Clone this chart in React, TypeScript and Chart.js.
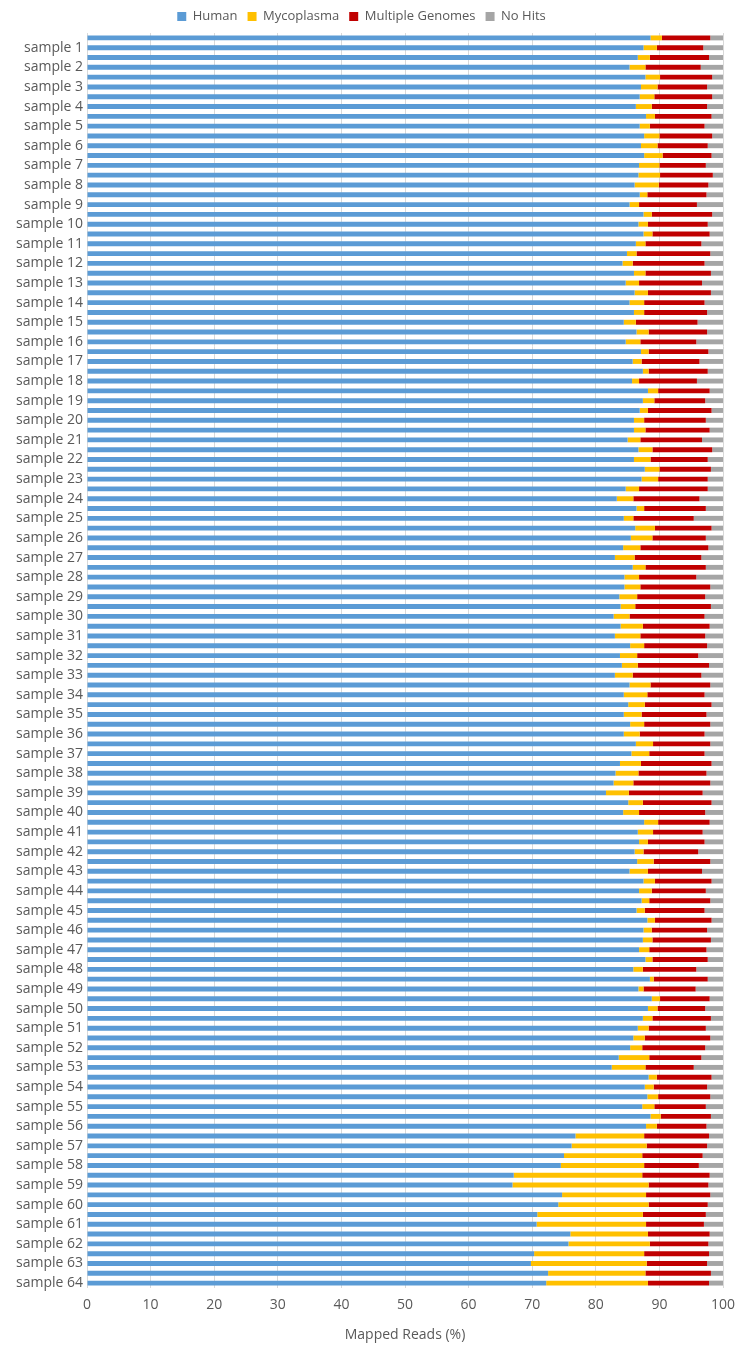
import React, { useEffect, useRef } from "react";
import { Chart, registerables } from "chart.js";

Chart.register(...registerables);

// Two bars per sample; the label sits on the second bar of each pair
const sampleCount = 64;
const categories: string[] = [];
for (let s = 1; s <= sampleCount; s++) {
  categories.push("");
  categories.push(`sample ${s}`);
}

const seriesNames = ["Human", "Mycoplasma", "Multiple Genomes", "No Hits"];
const seriesColors = ["#5B9BD5", "#FFC000", "#C00000", "#A5A5A5"];

const human = [
  88.6, 87.5, 86.6, 85.3, 87.8, 87.1, 86.9, 86.3, 87.9, 86.9, 87.6, 87.1, 87.6, 86.8, 86.7, 86.1,
  86.9, 85.3, 87.5, 86.7, 87.5, 86.3, 84.9, 84.2, 86.0, 84.7, 86.1, 85.3, 86.0, 84.4, 86.4, 84.7,
  87.1, 85.8, 87.4, 85.7, 88.2, 87.4, 86.9, 86.0, 86.0, 85.0, 86.7, 86.0, 87.7, 87.2, 84.7, 83.3,
  86.4, 84.4, 86.2, 85.5, 84.3, 83.0, 85.8, 84.5, 84.5, 83.7, 83.9, 82.8, 83.9, 83.0, 85.4, 83.8,
  84.1, 83.0, 85.3, 84.4, 85.1, 84.4, 85.4, 84.4, 86.3, 85.6, 83.8, 83.1, 82.8, 81.6, 85.1, 84.3,
  87.6, 86.6, 86.8, 86.1, 86.5, 85.3, 87.5, 86.8, 87.2, 86.4, 88.1, 87.5, 87.4, 86.8, 87.8, 85.9,
  88.5, 86.7, 88.8, 88.2, 87.4, 86.6, 85.9, 85.4, 83.6, 82.5, 88.3, 87.7, 88.1, 87.3, 88.6, 87.9,
  76.8, 76.2, 75.0, 74.5, 67.1, 66.9, 74.7, 74.1, 70.8, 70.7, 76.0, 75.7, 70.3, 69.8, 72.5, 72.2,
];

const mycoplasma = [
  1.8, 2.1, 1.9, 2.5, 2.3, 2.6, 2.3, 2.5, 1.4, 1.6, 2.4, 2.6, 2.9, 3.2, 3.4, 3.8,
  1.2, 1.5, 1.3, 1.5, 1.4, 1.5, 1.5, 1.6, 1.8, 2.1, 2.1, 2.3, 1.6, 1.9, 1.9, 2.3,
  1.2, 1.4, 0.9, 1.1, 1.6, 1.8, 1.3, 1.6, 1.8, 2.0, 2.2, 2.6, 2.3, 2.6, 2.1, 2.6,
  1.2, 1.5, 3.1, 3.4, 2.7, 3.1, 2.0, 2.3, 2.5, 2.8, 2.3, 2.5, 3.5, 4.0, 2.2, 2.7,
  2.5, 2.8, 3.3, 3.7, 2.6, 2.8, 2.2, 2.5, 2.7, 2.8, 3.3, 3.6, 3.1, 3.6, 2.3, 2.5,
  2.2, 2.4, 1.4, 1.4, 2.6, 2.9, 1.8, 2.0, 1.2, 1.3, 1.2, 1.3, 1.5, 1.6, 1.1, 1.5,
  0.6, 0.8, 1.3, 1.5, 1.5, 1.7, 1.8, 1.9, 4.8, 5.3, 1.3, 1.4, 1.7, 1.9, 1.6, 1.7,
  10.8, 11.8, 12.3, 13.1, 20.2, 21.4, 13.2, 14.2, 16.6, 17.2, 12.2, 12.8, 17.3, 18.2, 15.3, 16.0,
];

const multipleGenomes = [
  7.6, 7.3, 9.3, 8.7, 8.2, 7.8, 9.1, 8.7, 8.9, 8.6, 8.3, 7.9, 7.7, 7.3, 8.3, 7.8,
  9.3, 9.1, 9.5, 9.4, 9.0, 8.8, 11.6, 11.3, 10.3, 9.9, 9.9, 9.5, 9.9, 9.7, 9.2, 8.8,
  9.4, 9.1, 9.3, 9.1, 8.1, 8.0, 10.0, 9.7, 10.1, 9.7, 9.4, 9.0, 8.1, 7.8, 10.8, 10.4,
  9.7, 9.5, 8.9, 8.4, 10.7, 10.5, 9.5, 9.0, 11.0, 10.7, 11.9, 11.8, 10.5, 10.2, 9.9, 9.6,
  11.2, 10.8, 9.4, 9.0, 10.5, 10.2, 10.4, 10.2, 9.0, 8.7, 11.1, 10.7, 12.1, 11.6, 10.8, 10.4,
  8.1, 7.8, 8.9, 8.6, 8.9, 8.5, 8.9, 8.5, 9.6, 9.4, 8.9, 8.7, 9.2, 9.0, 8.7, 8.4,
  8.5, 8.2, 7.8, 7.5, 9.2, 9.0, 10.3, 9.9, 8.2, 7.6, 8.6, 8.4, 8.2, 8.1, 7.9, 7.8,
  10.2, 9.5, 9.5, 8.6, 10.6, 9.4, 10.1, 9.3, 9.9, 9.1, 9.7, 9.2, 10.2, 9.5, 10.3, 9.6,
];

const noHits = [
  2.0, 3.1, 2.2, 3.5, 1.7, 2.5, 1.7, 2.5, 1.8, 2.9, 1.7, 2.4, 1.8, 2.7, 1.6, 2.3,
  2.6, 4.1, 1.7, 2.4, 2.1, 3.4, 2.0, 2.9, 1.9, 3.3, 1.9, 2.9, 2.5, 4.0, 2.5, 4.2,
  2.3, 3.7, 2.4, 4.1, 2.1, 2.8, 1.8, 2.7, 2.1, 3.3, 1.7, 2.4, 1.9, 2.4, 2.4, 3.7,
  2.7, 4.6, 1.8, 2.7, 2.3, 3.4, 2.7, 4.2, 2.0, 2.8, 1.9, 2.9, 2.1, 2.8, 2.5, 3.9,
  2.2, 3.4, 2.0, 2.9, 1.8, 2.6, 2.0, 2.9, 2.0, 2.9, 1.8, 2.6, 2.0, 3.2, 1.8, 2.8,
  2.1, 3.2, 2.9, 3.9, 2.0, 3.3, 1.8, 2.7, 2.0, 2.9, 1.8, 2.5, 1.9, 2.6, 2.4, 4.2,
  2.4, 4.3, 2.1, 2.8, 1.9, 2.7, 2.0, 2.8, 3.4, 4.6, 1.8, 2.5, 2.0, 2.7, 1.9, 2.6,
  2.2, 2.5, 3.2, 3.8, 2.1, 2.3, 2.0, 2.4, 2.7, 3.0, 2.1, 2.3, 2.2, 2.5, 1.9, 2.2,
];

const xTicks = [0, 10, 20, 30, 40, 50, 60, 70, 80, 90, 100];
const xTitle = "Mapped Reads (%)";

const FONT = "'Open Sans', 'DejaVu Sans', sans-serif";
const TEXT = "#595959";

export default function App() {
  const ref = useRef<HTMLCanvasElement | null>(null);

  useEffect(() => {
    if (!ref.current) return;
    const values = [human, mycoplasma, multipleGenomes, noHits];
    const chart = new Chart(ref.current, {
      type: "bar",
      data: {
        labels: categories,
        datasets: seriesNames.map((name, i) => ({
          label: name,
          data: values[i],
          backgroundColor: seriesColors[i],
          borderWidth: 0,
          barPercentage: 0.5,
          categoryPercentage: 1,
        })),
      },
      options: {
        indexAxis: "y",
        responsive: false,
        animation: false,
        layout: { padding: { left: 0, right: 22, top: 0, bottom: 0 } },
        plugins: {
          tooltip: { enabled: false },
          legend: {
            position: "top",
            labels: {
              boxWidth: 9,
              boxHeight: 9,
              padding: 10,
              color: TEXT,
              font: { family: FONT, size: 13 },
            },
          },
        },
        scales: {
          x: {
            type: "linear",
            stacked: true,
            min: 0,
            max: 100,
            afterBuildTicks: (scale: any) => {
              scale.ticks = xTicks.map((v) => ({ value: v }));
            },
            afterFit: (scale: any) => {
              scale.height = 61;
            },
            ticks: {
              color: TEXT,
              font: { family: FONT, size: 14 },
              padding: 9,
            },
            grid: { color: "#D9D9D9", drawTicks: false, lineWidth: 1 },
            border: { display: false },
            title: {
              display: true,
              text: xTitle,
              color: TEXT,
              font: { family: FONT, size: 14 },
              padding: { top: 0, bottom: 6 },
            },
          },
          y: {
            type: "category",
            stacked: true,
            afterFit: (scale: any) => {
              scale.width = 87;
            },
            ticks: {
              autoSkip: false,
              color: TEXT,
              font: { family: FONT, size: 14 },
              padding: 4,
            },
            grid: { display: false, drawTicks: false },
            border: { display: false },
          },
        },
      },
    });
    return () => chart.destroy();
  }, []);

  return (
    <div style={{ position: "absolute", left: 0, top: 0, width: 745, height: 1349, background: "#fff" }}>
      <canvas ref={ref} width={745} height={1349} style={{ width: 745, height: 1349, display: "block" }} />
    </div>
  );
}
